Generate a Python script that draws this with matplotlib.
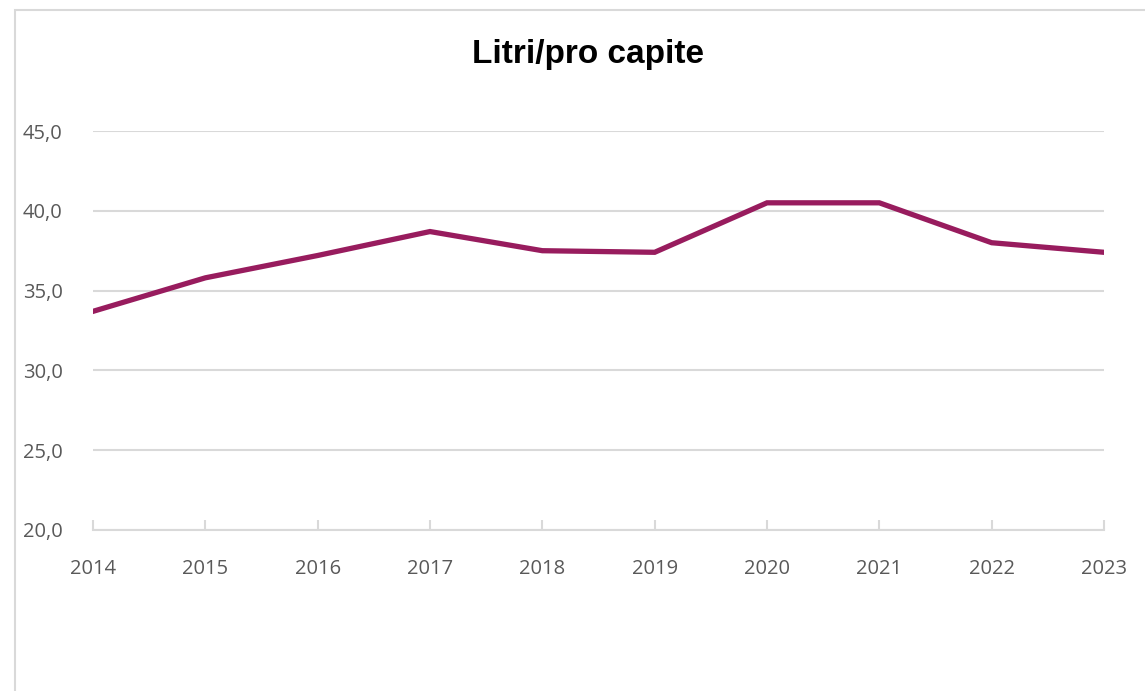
import matplotlib
matplotlib.use("Agg")
import matplotlib.pyplot as plt
from matplotlib.patches import Rectangle
from matplotlib.ticker import FuncFormatter

# dati
anni = [2014, 2015, 2016, 2017, 2018, 2019, 2020, 2021, 2022, 2023]
litri = [33.7, 35.8, 37.2, 38.7, 37.5, 37.4, 40.5, 40.5, 38.0, 37.4]
titolo = "Litri/pro capite"

grigio = "#d9d9d9"
testo = "#595959"
viola = "#981c5e"

fig = plt.figure(figsize=(11.45, 6.91), dpi=100)
fig.patch.set_facecolor("white")

# cornice dell'area grafico
fig.patches.append(Rectangle((15 / 1145, -0.1), 1.2, 1.1 - 10 / 691,
                             transform=fig.transFigure, fill=False,
                             edgecolor=grigio, linewidth=1.5))

ax = fig.add_axes([93 / 1145, 1 - 530 / 691, (1104 - 93) / 1145, (530 - 131) / 691])
ax.plot(anni, litri, color=viola, linewidth=3.8, solid_joinstyle="miter")

ax.set_xlim(anni[0], anni[-1])
ax.set_ylim(20, 45)
ax.set_yticks([20, 25, 30, 35, 40, 45])
ax.set_xticks(anni)
ax.yaxis.set_major_formatter(FuncFormatter(lambda v, p: f"{v:.1f}".replace(".", ",")))

for s in ["top", "right", "left"]:
    ax.spines[s].set_visible(False)
ax.spines["bottom"].set_color(grigio)
ax.spines["bottom"].set_linewidth(1.5)
ax.grid(axis="y", color=grigio, linewidth=1.5)
ax.set_axisbelow(True)

ax.tick_params(axis="y", length=0, pad=22, labelsize=14.5, labelcolor=testo)
ax.tick_params(axis="x", direction="in", length=7, width=1.5, color=grigio,
               pad=21, labelsize=14.5, labelcolor=testo)
for t in ax.get_xticklabels() + ax.get_yticklabels():
    t.set_family(["Open Sans", "DejaVu Sans"])

fig.text(588 / 1145, 1 - 55 / 691, titolo, ha="center", va="center",
         fontsize=24, fontweight="bold", color="black",
         family=["Liberation Sans Narrow", "Liberation Sans", "DejaVu Sans"])

fig.savefig("out.png", dpi=100)
